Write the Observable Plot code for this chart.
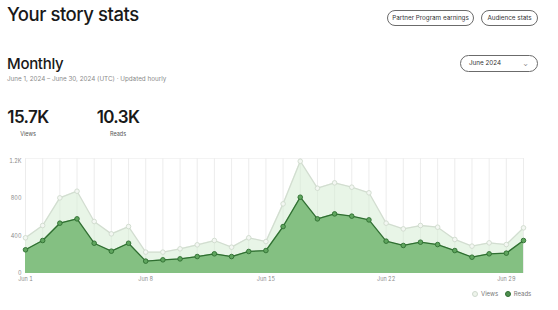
<!DOCTYPE html>
<html>
<head>
<meta charset="utf-8">
<script src="https://cdn.jsdelivr.net/npm/d3@7"></script>
<script src="https://cdn.jsdelivr.net/npm/@observablehq/plot@0.6"></script>
<style>
  html, body { margin: 0; padding: 0; background: #fff; }
  body { width: 558px; height: 310px; position: relative; overflow: hidden; font-family: Inter, "Noto Sans", sans-serif; color: #191919; }
  .abs { position: absolute; white-space: nowrap; }
  .title { left: 7px; top: 3px; font-size: 18.5px; font-weight: 500; letter-spacing: -0.45px; }
  .pill { border: 1px solid #6b6b6b; border-radius: 9px; height: 16px; box-sizing: border-box; font-size: 6.3px; line-height: 14px; text-align: center; color: #333; }
  .monthly { left: 7px; top: 54px; font-size: 15px; font-weight: 500; letter-spacing: -0.3px; }
  .sub { left: 7px; top: 75px; font-size: 6.3px; color: #8a8a8a; }
  .big { font-size: 17px; font-weight: 600; letter-spacing: -0.6px; text-align: center; }
  .lbl { font-size: 5.5px; color: #555; text-align: center; }
  .legend { font-size: 6px; color: #777; }
  #chart { position: absolute; left: 0; top: 150px; }
</style>
</head>
<body>
<div class="abs title">Your story stats</div>
<div class="abs pill" style="left:387px; top:10px; width:87px;">Partner Program earnings</div>
<div class="abs pill" style="left:481px; top:10px; width:57px;">Audience stats</div>
<div class="abs monthly">Monthly</div>
<div class="abs sub">June 1, 2024 – June 30, 2024 (UTC) · Updated hourly</div>
<div class="abs pill" style="left:460px; top:55px; width:78px; height:17px; line-height:15px; text-align:left; padding-left:8px;">June 2024<span style="position:absolute; right:9px; top:0; font-size:6px; color:#666;">⌄</span></div>

<div class="abs big" id="v1" style="left:0px; top:107px; width:56px;"></div>
<div class="abs lbl" id="l1" style="left:0px; top:131px; width:56px;"></div>
<div class="abs big" id="v2" style="left:90px; top:107px; width:56px;"></div>
<div class="abs lbl" id="l2" style="left:90px; top:131px; width:56px;"></div>

<div id="chart"></div>

<div class="abs legend" style="left:472px; top:290px;">
  <span style="display:inline-block; width:4px; height:4px; border-radius:50%; background:#eef4ec; border:0.8px solid #cfd9cd; vertical-align:middle; margin-right:3px;"></span>Views
  <span style="display:inline-block; width:4px; height:4px; border-radius:50%; background:#4f8f4f; border:0.8px solid #2f6e31; vertical-align:middle; margin:0 3px 0 5px;"></span>Reads
</div>

<script>
// ---- data ----
const days = [1,2,3,4,5,6,7,8,9,10,11,12,13,14,15,16,17,18,19,20,21,22,23,24,25,26,27,28,29,30];
const views = [381,512,807,878,555,423,501,228,228,263,306,352,281,381,341,743,1198,910,967,921,861,537,476,512,494,363,292,327,309,487];
const reads = [253,352,537,583,323,238,323,132,146,156,181,210,181,235,245,501,814,583,636,612,572,345,299,334,309,245,174,210,217,352];
const tickDays = [1,8,15,22,29];
const yTicks = [0,400,800,1200];
const totals = [{label: "Views", value: "15.7K"}, {label: "Reads", value: "10.3K"}];

document.getElementById("v1").textContent = totals[0].value;
document.getElementById("l1").textContent = totals[0].label;
document.getElementById("v2").textContent = totals[1].value;
document.getElementById("l2").textContent = totals[1].label;

const date = d => new Date(Date.UTC(2024, 5, d));
const rows = days.map((d, i) => ({date: date(d), views: views[i], reads: reads[i]}));

const chart = Plot.plot({
  width: 558,
  height: 140,
  marginLeft: 25,
  marginRight: 35,
  marginTop: 8,
  marginBottom: 17,
  style: {fontFamily: "Inter, sans-serif", background: "transparent", overflow: "visible"},
  x: {type: "utc", domain: [date(1), date(30)]},
  y: {domain: [0, 1227]},
  marks: [
    Plot.ruleX(rows, {x: "date", stroke: "#e4e4e4", strokeWidth: 0.7}),
    Plot.ruleY([1227], {stroke: "#eeeeee", strokeWidth: 0.7}),
    Plot.areaY(rows, {x: "date", y: "views", fill: "#d6ecd3", fillOpacity: 0.55}),
    Plot.lineY(rows, {x: "date", y: "views", stroke: "#d2ddd0", strokeWidth: 1.3}),
    Plot.dot(rows, {x: "date", y: "views", r: 2.3, fill: "#f3f7f2", stroke: "#cfdacd", strokeWidth: 0.9}),
    Plot.areaY(rows, {x: "date", y: "reads", fill: "#84c082"}),
    Plot.lineY(rows, {x: "date", y: "reads", stroke: "#2f6e31", strokeWidth: 1.3}),
    Plot.dot(rows, {x: "date", y: "reads", r: 2.3, fill: "#5fa55e", stroke: "#2f6e31", strokeWidth: 0.9}),
    Plot.axisY(yTicks, {tickSize: 0, tickPadding: 4, fontSize: 5.5, fill: "#8a8a8a",
      tickFormat: d => d >= 1000 ? (d / 1000) + "K" : String(d)}),
    Plot.axisX(tickDays.map(date), {tickSize: 0, tickPadding: 4, fontSize: 5.5, fill: "#8a8a8a",
      tickFormat: d => "Jun " + d.getUTCDate()})
  ]
});
document.getElementById("chart").appendChild(chart);
</script>
</body>
</html>
